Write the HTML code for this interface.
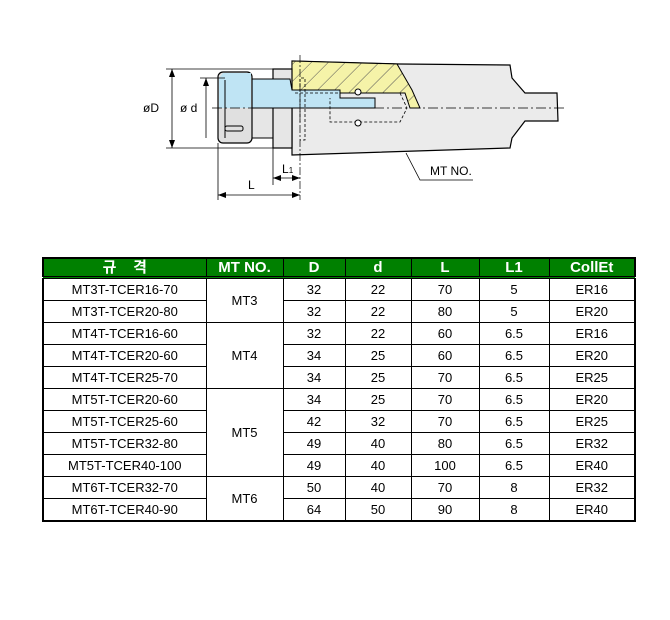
<!DOCTYPE html>
<html><head><meta charset="utf-8"><style>
body{margin:0;width:670px;height:620px;background:#fff;position:relative;overflow:hidden;font-family:"Liberation Sans","Noto Sans CJK KR",sans-serif}
svg{position:absolute;left:0;top:0}
table{position:absolute;left:42px;top:257px;border-collapse:collapse;table-layout:fixed;border:2px solid #000}
td{border:1px solid #000;text-align:center;font-size:13px;height:21px;padding:0;color:#000}
th{background:#008000;color:#fff;font-weight:bold;font-size:15px;height:17px;border:1px solid #000;border-bottom:3px double #000;padding:0;line-height:17px}
</style></head><body>
<svg width="670" height="250" viewBox="0 0 670 250">
<defs><pattern id="h" width="12" height="12" patternUnits="userSpaceOnUse" patternTransform="rotate(45)"><rect width="12" height="12" fill="#f5f3a8"/><line x1="0" y1="0" x2="0" y2="12" stroke="#555" stroke-width="1"/></pattern></defs>
<!-- body -->
<polygon points="292,61 400,64 510,65 512,78 525,93 557,93 558,121 525,121 512,138 510,148 292,155" fill="#ebebeb" stroke="#000" stroke-width="1.2"/>
<polygon points="292,61 397,64 412,90 420,108 410,108 405,93 330,93 300,93 292,93" fill="url(#h)" stroke="#000" stroke-width="1"/>
<!-- between nut and flange -->
<rect x="240" y="108" width="33" height="30" fill="#e6e6e6" stroke="#000" stroke-width="1"/>
<!-- flange -->
<rect x="273" y="69" width="19" height="79" fill="#e6e6e6" stroke="#000" stroke-width="1.2"/>
<!-- blue -->
<polygon points="240,79 290,79 292,90 340,90 340,98 375,98 375,108 292,108 273,108 240,108" fill="#bfe4f4" stroke="#000" stroke-width="1"/>
<rect x="218" y="72" width="34" height="71" rx="5" fill="#e0e0e0" stroke="#000" stroke-width="1.2"/>
<path d="M223,73 H251 V108 H219 V78 Z" fill="#bfe4f4"/>
<line x1="225" y1="80" x2="225" y2="138" stroke="#000"/>
<rect x="225" y="126" width="18" height="5" rx="2" fill="none" stroke="#000"/>
<g fill="none" stroke="#000" stroke-dasharray="3,2" stroke-width="0.8">
<polyline points="300,122 300,78 305,78 305,140 300,140"/>
<polyline points="295,93 400,93 407,108 400,122 330,122 330,98"/>
</g>
<circle cx="358" cy="92" r="3" fill="#fff" stroke="#000"/>
<circle cx="358" cy="123" r="3" fill="#fff" stroke="#000"/>
<line x1="300" y1="55" x2="300" y2="200" stroke="#000" stroke-width="0.7" stroke-dasharray="8,2,2,2"/>
<line x1="212" y1="108" x2="565" y2="108" stroke="#000" stroke-width="0.8" stroke-dasharray="10,3,2,3"/>
<!-- dims -->
<g stroke="#000" stroke-width="0.8" fill="none">
<line x1="166" y1="69" x2="273" y2="69"/><line x1="166" y1="148" x2="273" y2="148"/>
<line x1="172" y1="69" x2="172" y2="148"/>
<line x1="200" y1="78" x2="225" y2="78"/><line x1="206" y1="78" x2="206" y2="138"/>
<line x1="218" y1="143" x2="218" y2="200"/><line x1="273" y1="148" x2="273" y2="185"/>
<line x1="218" y1="195" x2="300" y2="195"/><line x1="273" y1="178" x2="300" y2="178"/>
<polyline points="406,153 420,180 473,180"/>
</g>
<g fill="#000">
<polygon points="172,69 169,77 175,77"/><polygon points="172,148 169,140 175,140"/>
<polygon points="206,78 203,86 209,86"/>
<polygon points="218,195 226,192 226,198"/><polygon points="300,195 292,192 292,198"/>
<polygon points="273,178 281,175 281,181"/><polygon points="300,178 292,175 292,181"/>
</g>
<g font-size="12" font-family="Liberation Sans,sans-serif">
<text x="143" y="112">øD</text><text x="180" y="112">ø d</text>
<text x="282" y="173">L<tspan font-size="8">1</tspan></text>
<text x="248" y="189">L</text><text x="430" y="175">MT NO.</text>
</g>
</svg>
<table>
<colgroup><col style="width:163px"><col style="width:77px"><col style="width:62px"><col style="width:66px"><col style="width:68px"><col style="width:70px"><col style="width:86px"></colgroup>
<tr><th>규&nbsp;&nbsp;&nbsp;&nbsp;격</th><th>MT NO.</th><th>D</th><th>d</th><th>L</th><th>L1</th><th>CollEt</th></tr>
<tr><td>MT3T-TCER16-70</td><td rowspan="2">MT3</td><td>32</td><td>22</td><td>70</td><td>5</td><td>ER16</td></tr>
<tr><td>MT3T-TCER20-80</td><td>32</td><td>22</td><td>80</td><td>5</td><td>ER20</td></tr>
<tr><td>MT4T-TCER16-60</td><td rowspan="3">MT4</td><td>32</td><td>22</td><td>60</td><td>6.5</td><td>ER16</td></tr>
<tr><td>MT4T-TCER20-60</td><td>34</td><td>25</td><td>60</td><td>6.5</td><td>ER20</td></tr>
<tr><td>MT4T-TCER25-70</td><td>34</td><td>25</td><td>70</td><td>6.5</td><td>ER25</td></tr>
<tr><td>MT5T-TCER20-60</td><td rowspan="4">MT5</td><td>34</td><td>25</td><td>70</td><td>6.5</td><td>ER20</td></tr>
<tr><td>MT5T-TCER25-60</td><td>42</td><td>32</td><td>70</td><td>6.5</td><td>ER25</td></tr>
<tr><td>MT5T-TCER32-80</td><td>49</td><td>40</td><td>80</td><td>6.5</td><td>ER32</td></tr>
<tr><td>MT5T-TCER40-100</td><td>49</td><td>40</td><td>100</td><td>6.5</td><td>ER40</td></tr>
<tr><td>MT6T-TCER32-70</td><td rowspan="2">MT6</td><td>50</td><td>40</td><td>70</td><td>8</td><td>ER32</td></tr>
<tr><td>MT6T-TCER40-90</td><td>64</td><td>50</td><td>90</td><td>8</td><td>ER40</td></tr>
</table>
</body></html>
